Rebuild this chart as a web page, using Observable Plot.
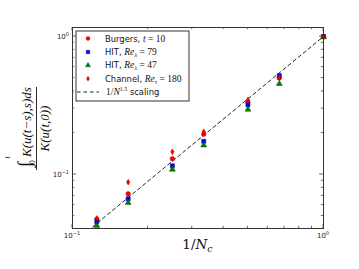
<!DOCTYPE html>
<html>
<head>
<meta charset="utf-8">
<script src="https://cdn.jsdelivr.net/npm/d3@7"></script>
<script src="https://cdn.jsdelivr.net/npm/@observablehq/plot@0.6"></script>
<style>
  html, body { margin: 0; padding: 0; background: white; }
  #chart { width: 359px; height: 269px; }
</style>
</head>
<body>
<div id="chart"></div>
<script>
// ---- data ----
const invNc = [1/8, 1/6, 1/4, 1/3, 1/2, 2/3, 1];
const burgers = [0.0474, 0.0724, 0.130, 0.196, 0.335, 0.500, 1.0];
const hit79   = [0.0454, 0.0667, 0.1156, 0.174, 0.320, 0.520, 1.0];
const hit47   = [0.0425, 0.0624, 0.1087, 0.163, 0.296, 0.454, 0.99];
const channel = [0.0480, 0.0880, 0.146, 0.204, 0.347, 0.505, 1.0];
const scalingX = [0.1, 1];
const scalingY = [0.0316, 1];   // 1/N^1.5 reference line end points
const xMajor = [0.1, 1];
const xMinor = [0.2, 0.3, 0.4, 0.5, 0.6, 0.7, 0.8, 0.9];
const yMajor = [0.1, 1];
const yMinor = [0.05, 0.06, 0.07, 0.08, 0.09, 0.2, 0.3, 0.4, 0.5, 0.6, 0.7, 0.8, 0.9];
const majorLabels = {0.1: ["10", "\u22121"], 1: ["10", "0"]};

const rows = (vals) => invNc.map((x, i) => ({x, y: vals[i]}));
const scaleLine = scalingX.map((x, i) => ({x, y: scalingY[i]}));

const thinDiamond = {
  draw(ctx, size) {
    const s = Math.sqrt(size);
    const w = s * 0.36, h = s * 0.62;
    ctx.moveTo(0, -h); ctx.lineTo(w, 0); ctx.lineTo(0, h); ctx.lineTo(-w, 0); ctx.closePath();
  }
};

const series = [
  {vals: burgers, symbol: "circle", fill: "#ff0000", stroke: "#b00000", r: 2.3},
  {vals: hit79, symbol: "square", fill: "#0000ff", stroke: "#0000a0", r: 2.3},
  {vals: hit47, symbol: "triangle", fill: "#008000", stroke: "#005000", r: 2.2},
  {vals: channel, symbol: thinDiamond, fill: "#ff0000", stroke: "#a00000", r: 2.6}
];

const plot = Plot.plot({
  width: 359, height: 269,
  marginLeft: 72, marginRight: 36, marginTop: 27, marginBottom: 41,
  x: {type: "log", domain: [0.1, 1], axis: null},
  y: {type: "log", domain: [0.0406, 1.162], axis: null},
  style: {background: "white", overflow: "visible"},
  marks: [
    Plot.line(scaleLine, {x: "x", y: "y", stroke: "#222", strokeWidth: 1, strokeDasharray: "3.5,3", clip: true}),
    ...series.map(s => Plot.dot(rows(s.vals), {x: "x", y: "y", symbol: s.symbol, fill: s.fill, stroke: s.stroke, strokeWidth: 0.5, r: s.r})),
    Plot.frame({stroke: "#333", strokeWidth: 1})
  ]
});
document.getElementById("chart").appendChild(plot);

// ---- ticks, labels, legend via d3 using Plot's scales ----
const svg = d3.select(plot);
const sx = plot.scale("x"), sy = plot.scale("y");
const [x0, x1] = sx.range, [y0, y1] = sy.range; // y0 bottom, y1 top
const g = svg.append("g").attr("stroke", "#444").attr("stroke-width", 0.8);
const tick = (v, len, axis) => {
  if (axis === "x") {
    const px = sx.apply(v);
    g.append("line").attr("x1", px).attr("x2", px).attr("y1", y0).attr("y2", y0 - len);
    g.append("line").attr("x1", px).attr("x2", px).attr("y1", y1).attr("y2", y1 + len);
  } else {
    const py = sy.apply(v);
    g.append("line").attr("y1", py).attr("y2", py).attr("x1", x0).attr("x2", x0 + len);
    g.append("line").attr("y1", py).attr("y2", py).attr("x1", x1).attr("x2", x1 - len);
  }
};
xMajor.forEach(v => tick(v, 4, "x"));
xMinor.forEach(v => tick(v, 2.2, "x"));
yMajor.forEach(v => tick(v, 4, "y"));
yMinor.forEach(v => tick(v, 2.2, "y"));

const labelFont = "DejaVu Sans, sans-serif";
function powerLabel(x, y, anchor, parts) {
  const t = svg.append("text").attr("x", x).attr("y", y).attr("text-anchor", anchor)
    .attr("font-family", labelFont).attr("font-size", 7).attr("fill", "#222");
  t.append("tspan").text(parts[0]);
  t.append("tspan").attr("font-size", 5).attr("dy", -3.2).text(parts[1]);
}
xMajor.forEach(v => powerLabel(sx.apply(v), y0 + 10, "middle", majorLabels[v]));
yMajor.forEach(v => powerLabel(x0 - 3, sy.apply(v) + 3.5, "end", majorLabels[v]));

// x label
const xl = svg.append("text").attr("x", (x0 + x1) / 2).attr("y", y0 + 20.5).attr("text-anchor", "middle")
  .attr("font-family", "DejaVu Serif, serif").attr("font-size", 13.5).attr("fill", "#111");
xl.append("tspan").text("1/");
xl.append("tspan").attr("font-style", "italic").text("N");
xl.append("tspan").attr("font-style", "italic").attr("font-size", 9.5).attr("dy", 3).text("c");

// y label (rotated fraction)
const yl = svg.append("g").attr("transform", "translate(0,128.5) rotate(-90)")
  .attr("font-family", "Liberation Serif, serif").attr("fill", "#111");
yl.append("text").attr("x", -36).attr("y", 31).attr("text-anchor", "middle").attr("font-size", 19).text("\u222B");
yl.append("text").attr("x", -29).attr("y", 10).attr("text-anchor", "middle").attr("font-size", 7.5).attr("font-style", "italic").text("t");
yl.append("text").attr("x", -33.5).attr("y", 34.5).attr("text-anchor", "middle").attr("font-size", 7.5).text("0");
yl.append("text").attr("x", -28.5).attr("y", 31).attr("text-anchor", "start").attr("font-size", 13).attr("font-style", "italic")
  .text("K(u(t\u2212s),s)ds");
yl.append("line").attr("x1", -41.5).attr("x2", 41.5).attr("y1", 36.5).attr("y2", 36.5).attr("stroke", "#111").attr("stroke-width", 0.9);
yl.append("text").attr("x", 0).attr("y", 48.5).attr("text-anchor", "middle").attr("font-size", 13).attr("font-style", "italic")
  .text("K(u(t,0))");

// legend
const lg = svg.append("g");
lg.append("rect").attr("x", 76).attr("y", 31).attr("width", 113).attr("height", 70)
  .attr("fill", "white").attr("stroke", "#333").attr("stroke-width", 1);
const rowY = [38.5, 52, 65.3, 78.7, 92];
const legendItems = [
  {s: series[0], text: ["Burgers, ", ["t", true], [" = 10", false]]},
  {s: series[1], text: ["HIT, ", ["Re", true], ["\u03BB", true, "sub"], [" = 79", false, "back"]]},
  {s: series[2], text: ["HIT, ", ["Re", true], ["\u03BB", true, "sub"], [" = 47", false, "back"]]},
  {s: series[3], text: ["Channel, ", ["Re", true], ["\u03C4", true, "sub"], [" = 180", false, "back"]]}
];
legendItems.forEach((it, i) => {
  const sym = typeof it.s.symbol === "string"
    ? {circle: d3.symbolCircle, square: d3.symbolSquare, triangle: d3.symbolTriangle}[it.s.symbol]
    : it.s.symbol;
  const size = it.s.r * it.s.r * Math.PI * 0.7;
  lg.append("path").attr("transform", `translate(88,${rowY[i]})`)
    .attr("d", d3.symbol(sym, size)()).attr("fill", it.s.fill).attr("stroke", it.s.stroke).attr("stroke-width", 0.5);
  const t = lg.append("text").attr("x", 105).attr("y", rowY[i] + 3).attr("text-anchor", "start")
    .attr("font-family", labelFont).attr("font-size", 8.4).attr("fill", "#111");
  it.text.forEach(p => {
    if (typeof p === "string") { t.append("tspan").text(p); return; }
    const ts = t.append("tspan").attr("font-family", "Liberation Serif, serif").text(p[0]);
    if (p[1]) ts.attr("font-style", "italic");
    if (p[2] === "sub") ts.attr("font-size", 6.5).attr("dy", 2);
    else {
      ts.attr("font-size", 9.5);
      if (p[2] === "back") ts.attr("dy", -2);
    }
  });
});
lg.append("line").attr("x1", 77).attr("x2", 99).attr("y1", rowY[4]).attr("y2", rowY[4])
  .attr("stroke", "#222").attr("stroke-width", 1).attr("stroke-dasharray", "3.5,3");
const lt = lg.append("text").attr("x", 106).attr("y", rowY[4] + 3).attr("text-anchor", "start")
  .attr("font-family", labelFont).attr("font-size", 8.4).attr("fill", "#111");
lt.append("tspan").attr("font-family", "Liberation Serif, serif").attr("font-size", 9.5).text("1/");
lt.append("tspan").attr("font-family", "Liberation Serif, serif").attr("font-size", 9.5).attr("font-style", "italic").text("N");
lt.append("tspan").attr("font-family", "Liberation Serif, serif").attr("font-size", 6).attr("dy", -3.8).text("1.5");
lt.append("tspan").attr("dy", 3.8).text(" scaling");
</script>
</body>
</html>
